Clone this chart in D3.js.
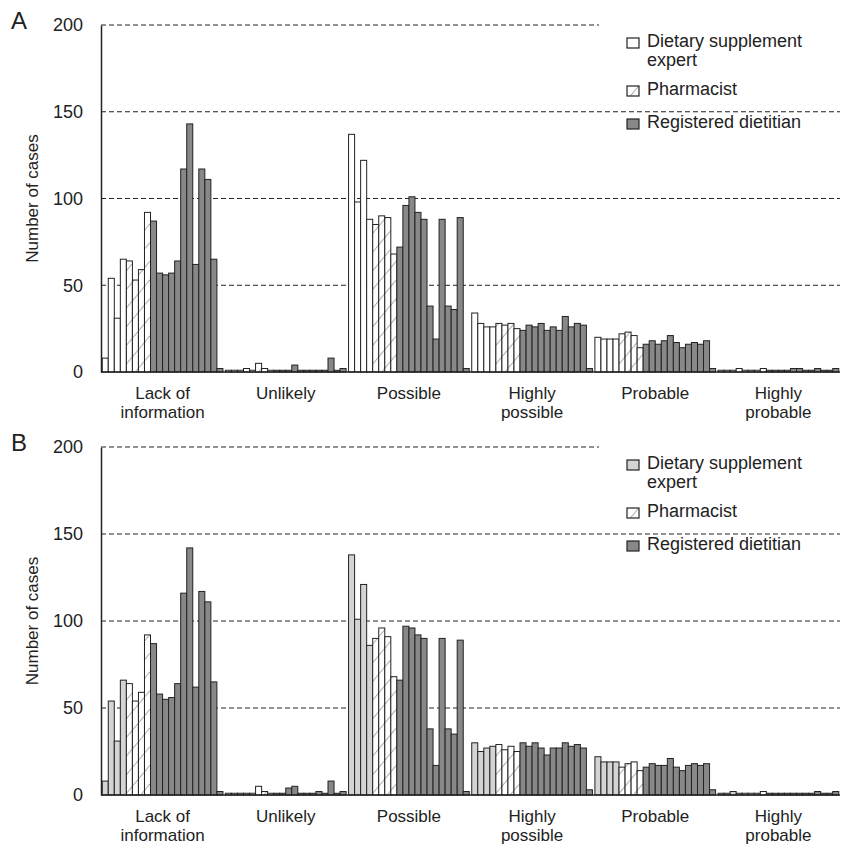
<!DOCTYPE html>
<html>
<head>
<meta charset="utf-8">
<script src="https://cdn.jsdelivr.net/npm/d3@7"></script>
<style>
  body { margin: 0; background: #fff; }
  text { font-family: "Liberation Sans", Arial, sans-serif; fill: #222; }
</style>
</head>
<body>
<div id="chart"></div>
<script>
// categories on the x axis ("\n" = line break)
var categories = ["Lack of\ninformation", "Unlikely", "Possible", "Highly\npossible", "Probable", "Highly\nprobable"];
var seriesNames = ["Dietary supplement expert", "Pharmacist", "Registered dietitian"];
var raterCounts = [4, 4, 12];   // raters per series, bars in each category
var yTicks = [0, 50, 100, 150, 200];

// panel A, one array per category, 20 raters each
var aLack     = [8, 54, 31, 65, 64, 53, 59, 92, 87, 57, 56, 57, 64, 117, 143, 62, 117, 111, 65, 2];
var aUnlikely = [1, 1, 1, 2, 1, 5, 2, 1, 1, 1, 1, 4, 1, 1, 1, 1, 1, 8, 1, 2];
var aPossible = [137, 98, 122, 88, 85, 90, 89, 68, 72, 96, 101, 92, 88, 38, 19, 88, 38, 36, 89, 2];
var aHighPoss = [34, 28, 26, 26, 28, 27, 28, 25, 24, 27, 26, 28, 24, 26, 24, 32, 26, 28, 27, 2];
var aProbable = [20, 19, 19, 19, 22, 23, 21, 14, 16, 18, 16, 18, 21, 17, 14, 16, 17, 16, 18, 2];
var aHighProb = [1, 1, 1, 2, 1, 1, 1, 2, 1, 1, 1, 1, 2, 2, 1, 1, 2, 1, 1, 2];

// panel B
var bLack     = [8, 54, 31, 66, 64, 54, 59, 92, 87, 58, 55, 56, 64, 116, 142, 62, 117, 111, 65, 2];
var bUnlikely = [1, 1, 1, 1, 1, 5, 2, 1, 1, 1, 4, 5, 1, 1, 1, 2, 1, 8, 1, 2];
var bPossible = [138, 101, 121, 86, 90, 96, 91, 68, 66, 97, 96, 92, 90, 38, 17, 90, 38, 35, 89, 2];
var bHighPoss = [30, 25, 27, 28, 29, 26, 28, 25, 30, 28, 30, 27, 23, 27, 27, 30, 28, 29, 27, 3];
var bProbable = [22, 19, 19, 19, 16, 18, 19, 14, 16, 18, 17, 17, 21, 16, 14, 17, 18, 17, 18, 3];
var bHighProb = [1, 1, 2, 1, 1, 1, 1, 2, 1, 1, 1, 1, 1, 1, 1, 1, 2, 1, 1, 2];

var panelA = [aLack, aUnlikely, aPossible, aHighPoss, aProbable, aHighProb];
var panelB = [bLack, bUnlikely, bPossible, bHighPoss, bProbable, bHighProb];

// which series each rater belongs to
var raterSeries = [];
raterCounts.forEach(function(n, s) {
  for (var k = 0; k < n; k++) raterSeries.push(s);
});

var W = 848, H = 849;
var svg = d3.select("#chart").append("svg")
  .attr("width", W).attr("height", H);

// hatch for pharmacists
var defs = svg.append("defs");
var pat = defs.append("pattern")
  .attr("id", "hatch")
  .attr("patternUnits", "userSpaceOnUse")
  .attr("width", 12).attr("height", 12)
  .attr("patternTransform", "rotate(40)");
pat.append("rect").attr("width", 12).attr("height", 12).attr("fill", "#fff");
pat.append("line").attr("x1", 0).attr("y1", 0).attr("x2", 0).attr("y2", 12)
  .attr("stroke", "#9a9a9a").attr("stroke-width", 1.6);

var x = d3.scaleBand()
  .domain(categories)
  .range([101, 840])
  .paddingInner(0.02)
  .paddingOuter(0.01);

var xr = d3.scaleBand()
  .domain(d3.range(raterSeries.length))
  .range([0, x.bandwidth()]);

function drawPanel(letter, top, bottom, data, expertFill) {
  var fills = [expertFill, "url(#hatch)", "#888"];
  var y = d3.scaleLinear().domain([0, 200]).range([bottom, top]);
  var g = svg.append("g");

  // dashed grid
  g.selectAll("line.grid")
    .data(yTicks.filter(function(d) { return d > 0; }))
    .enter().append("line")
    .attr("class", "grid")
    .attr("x1", 101).attr("x2", 840)
    .attr("y1", function(d) { return y(d); })
    .attr("y2", function(d) { return y(d); })
    .attr("stroke", "#222")
    .attr("stroke-width", 1)
    .attr("stroke-dasharray", "5,3");

  // bars
  var groups = g.selectAll("g.cat")
    .data(data)
    .enter().append("g")
    .attr("transform", function(d, i) { return "translate(" + x(categories[i]) + ",0)"; });

  groups.selectAll("rect")
    .data(function(d) { return d; })
    .enter().append("rect")
    .attr("x", function(d, i) { return xr(i); })
    .attr("width", xr.bandwidth())
    .attr("y", function(d) { return y(d); })
    .attr("height", function(d) { return y(0) - y(d); })
    .attr("fill", function(d, i) { return fills[raterSeries[i]]; })
    .attr("stroke", "#222")
    .attr("stroke-width", 1);

  // y axis
  var yAxis = d3.axisLeft(y).tickValues(yTicks).tickSize(0).tickPadding(18);
  var ya = g.append("g").attr("transform", "translate(101,0)").call(yAxis);
  ya.select(".domain").attr("stroke", "#222").attr("stroke-width", 1.5);
  ya.selectAll("text")
    .style("font-family", '"Liberation Sans", Arial, sans-serif')
    .style("font-size", "18px").attr("fill", "#222");

  // baseline
  g.append("line")
    .attr("x1", 101).attr("x2", 840)
    .attr("y1", y(0)).attr("y2", y(0))
    .attr("stroke", "#222").attr("stroke-width", 1.5);

  // x labels
  var xAxis = d3.axisBottom(x).tickSize(0).tickFormat("");
  var xa = g.append("g").attr("transform", "translate(0," + bottom + ")").call(xAxis);
  xa.select(".domain").remove();
  xa.selectAll(".tick").each(function(d) {
    var t = d3.select(this).append("text")
      .attr("text-anchor", "middle")
      .style("font-size", "17px")
      .attr("fill", "#222");
    d.split("\n").forEach(function(line, k) {
      t.append("tspan").attr("x", 0).attr("y", 27 + k * 19).text(line);
    });
  });

  // y title
  g.append("text")
    .attr("transform", "translate(38," + (top + bottom) / 2 + ") rotate(-90)")
    .attr("text-anchor", "middle")
    .style("font-size", "17px")
    .text("Number of cases");

  // panel letter
  g.append("text")
    .attr("x", 11).attr("y", top + 4)
    .style("font-size", "24px")
    .text(letter);

  // legend
  var lg = g.append("g").attr("transform", "translate(0," + top + ")");
  lg.append("rect").attr("x", 599).attr("y", -4).attr("width", 249).attr("height", 78).attr("fill", "#fff");
  var legendY = [16, 64, 97];
  seriesNames.forEach(function(name, s) {
    lg.append("rect")
      .attr("x", 627).attr("y", legendY[s] - 3)
      .attr("width", 12).attr("height", 10)
      .attr("fill", fills[s])
      .attr("stroke", "#222").attr("stroke-width", 1.2);
    var t = lg.append("text").style("font-size", "18px");
    var lines = s === 0 ? ["Dietary supplement", "expert"] : [name];
    lines.forEach(function(line, k) {
      t.append("tspan").attr("x", 647).attr("y", legendY[s] + 6 + k * 19).text(line);
    });
  });
}

drawPanel("A", 25, 372, panelA, "#fff");
drawPanel("B", 447, 795, panelB, "#d4d4d4");
</script>
</body>
</html>
